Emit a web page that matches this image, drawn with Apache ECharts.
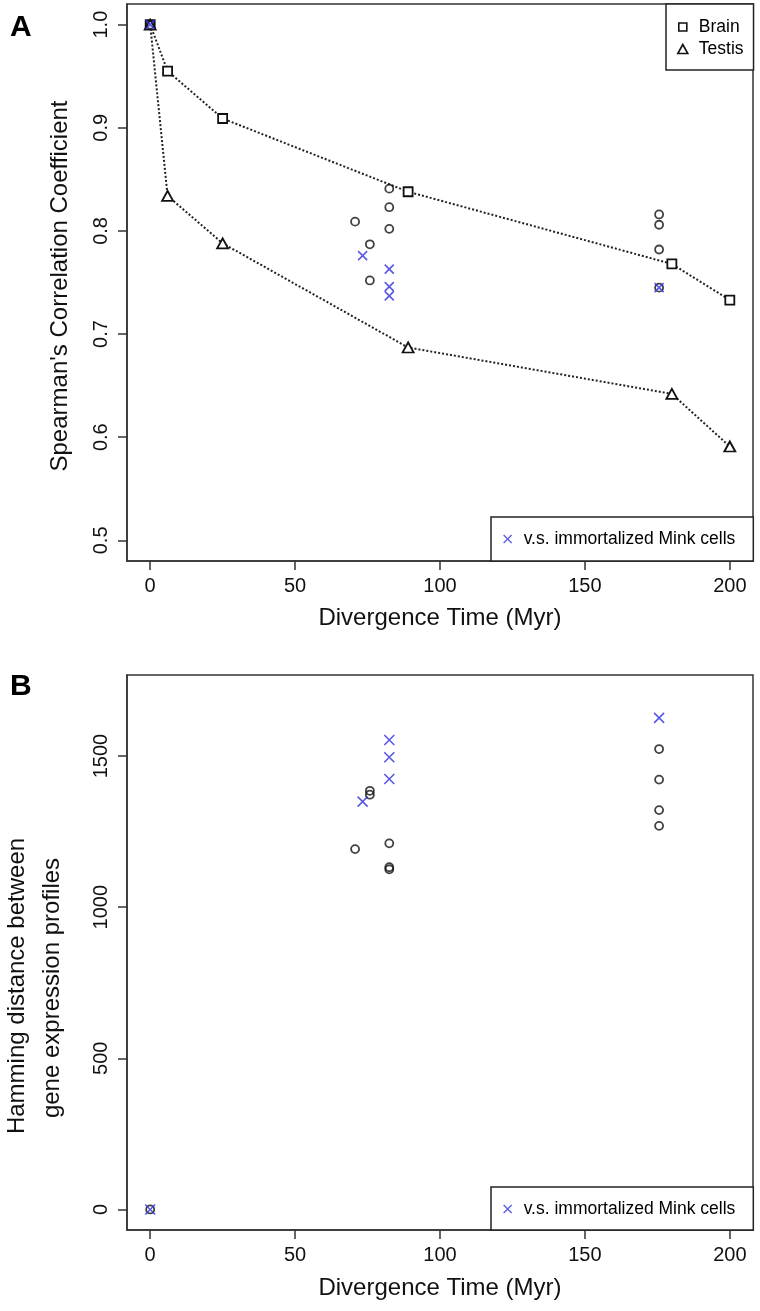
<!DOCTYPE html>
<html>
<head>
<meta charset="utf-8">
<script src="https://cdn.jsdelivr.net/npm/echarts@6/dist/echarts.min.js"></script>
<style>
html,body{margin:0;padding:0;background:#fff;}
#chart{width:760px;height:1311px;}
</style>
</head>
<body>
<div id="chart"></div>
<script>
// ---- data ----
const lineTime = [0, 6, 25, 89, 180, 200];
const brainCorr = [1.0, 0.955, 0.909, 0.838, 0.768, 0.733];
const testisCorr = [1.0, 0.834, 0.788, 0.687, 0.642, 0.591];

const pairTime = [0, 70.7, 75.8, 75.8, 82.5, 82.5, 82.5, 175.6, 175.6, 175.6, 175.6];
const pairCorr = [1.0, 0.809, 0.787, 0.752, 0.841, 0.823, 0.802, 0.816, 0.806, 0.782, 0.745];
const pairHamming = [0, 1192, 1385, 1372, 1211, 1132, 1125, 1523, 1422, 1321, 1269];

const minkTime = [0, 73.3, 82.5, 82.5, 82.5, 175.6];
const minkCorr = [1.0, 0.776, 0.763, 0.746, 0.737, 0.745];
const minkHamming = [0, 1349, 1553, 1496, 1424, 1626];

const xTicks = [0, 50, 100, 150, 200];
const yTicksA = [0.5, 0.6, 0.7, 0.8, 0.9, 1.0];
const yTicksB = [0, 500, 1000, 1500];

const seriesNames = ['Brain', 'Testis', 'v.s. immortalized Mink cells'];

// ---- chart ----
const FONT = 'Liberation Sans, Arial, Helvetica, sans-serif';
const AXC = '#333';
const BLUE = '#2f2fe0';
const CROSS = 'path://M0,0L10,10M10,0L0,10';
const ICON_SQ = 'path://M0,0M22,10M7,1L15,1L15,9L7,9Z';
const ICON_TRI = 'path://M0,0M22,10M11,0.5L16,9.5L6,9.5Z';
const ICON_X = 'path://M0,0M22,10M7,1L15,9M15,1L7,9';
const zip = (a, b) => a.map((v, i) => [v, b[i]]);

function xAxisCfg(gi) {
  return {
    type: 'value', gridIndex: gi, min: -8, max: 208,
    axisLine: {show: true, onZero: false, lineStyle: {color: AXC, width: 1.5}},
    axisTick: {show: true, length: 9, customValues: xTicks, lineStyle: {color: AXC, width: 1.5}},
    axisLabel: {customValues: xTicks, fontSize: 20, color: '#111', fontFamily: FONT, margin: 15},
    splitLine: {show: false}
  };
}
function yAxisCfg(gi, min, max, ticks, fmt) {
  return {
    type: 'value', gridIndex: gi, min: min, max: max,
    axisLine: {show: true, onZero: false, lineStyle: {color: AXC, width: 1.5}},
    axisTick: {show: true, length: 9, customValues: ticks, lineStyle: {color: AXC, width: 1.5}},
    axisLabel: {customValues: ticks, rotate: 90, fontSize: 20, color: '#111', fontFamily: FONT, margin: 16, formatter: fmt},
    splitLine: {show: false}
  };
}
function legendCfg(names, icons, left, top, padding) {
  return {
    show: true, orient: 'vertical', left: left, top: top, padding: padding,
    data: names.map((n, i) => ({name: n, icon: icons[i]})),
    itemWidth: 22, itemHeight: 10, itemGap: 4, selectedMode: false,
    borderColor: '#222', borderWidth: 1.5, backgroundColor: '#fff', borderRadius: 0,
    textStyle: {fontSize: 17.5, lineHeight: 18, color: '#000', fontFamily: FONT}
  };
}

const chart = echarts.init(document.getElementById('chart'), null, {renderer: 'canvas'});
const option = {
  animation: false,
  backgroundColor: '#fff',
  grid: [
    {left: 127, top: 4, width: 626, height: 557, show: true, borderColor: AXC, borderWidth: 1.5, backgroundColor: 'transparent'},
    {left: 127, top: 675, width: 626, height: 555, show: true, borderColor: AXC, borderWidth: 1.5, backgroundColor: 'transparent'}
  ],
  xAxis: [xAxisCfg(0), xAxisCfg(1)],
  yAxis: [
    yAxisCfg(0, 0.48, 1.02, yTicksA, v => v.toFixed(1)),
    yAxisCfg(1, -68, 1768, yTicksB, v => String(v))
  ],
  legend: [
    Object.assign(legendCfg([seriesNames[0], seriesNames[1]], [ICON_SQ, ICON_TRI], 666, 4, [14, 10, 12, 5]),
      {itemStyle: {color: '#fff', borderColor: '#111', borderWidth: 1.6}}),
    Object.assign(legendCfg([seriesNames[2]], [ICON_X], 491, 517, [13, 18, 13, 5]),
      {itemStyle: {color: 'rgba(0,0,0,0)', borderColor: BLUE, borderWidth: 1.3}}),
    Object.assign(legendCfg([seriesNames[2]], [ICON_X], 491, 1187, [13, 18, 12, 5]),
      {itemStyle: {color: 'rgba(0,0,0,0)', borderColor: BLUE, borderWidth: 1.3}})
  ],
  graphic: [
    {type: 'text', x: 10, y: 28, style: {text: 'A', fontSize: 30, fontWeight: 'bold', fontFamily: FONT, fill: '#000', verticalAlign: 'middle'}},
    {type: 'text', x: 10, y: 687, style: {text: 'B', fontSize: 30, fontWeight: 'bold', fontFamily: FONT, fill: '#000', verticalAlign: 'middle'}},
    {type: 'text', x: 60, y: 286, rotation: Math.PI / 2, style: {text: "Spearman's Correlation Coefficient", fontSize: 24, fontFamily: FONT, fill: '#111', align: 'center', verticalAlign: 'middle'}},
    {type: 'text', x: 440, y: 618, style: {text: 'Divergence Time (Myr)', fontSize: 24, fontFamily: FONT, fill: '#111', align: 'center', verticalAlign: 'middle'}},
    {type: 'text', x: 17, y: 986, rotation: Math.PI / 2, style: {text: 'Hamming distance between', fontSize: 24, fontFamily: FONT, fill: '#111', align: 'center', verticalAlign: 'middle'}},
    {type: 'text', x: 52, y: 988, rotation: Math.PI / 2, style: {text: 'gene expression profiles', fontSize: 24, fontFamily: FONT, fill: '#111', align: 'center', verticalAlign: 'middle'}},
    {type: 'text', x: 440, y: 1288, style: {text: 'Divergence Time (Myr)', fontSize: 24, fontFamily: FONT, fill: '#111', align: 'center', verticalAlign: 'middle'}}
  ],
  series: [
    {
      name: seriesNames[0], type: 'line', xAxisIndex: 0, yAxisIndex: 0, z: 3,
      data: zip(lineTime, brainCorr),
      symbol: 'rect', symbolSize: 9, showSymbol: true,
      lineStyle: {color: '#222', width: 2, type: [2, 2]},
      itemStyle: {color: '#fff', borderColor: '#111', borderWidth: 1.8}
    },
    {
      name: seriesNames[1], type: 'line', xAxisIndex: 0, yAxisIndex: 0, z: 3,
      data: zip(lineTime, testisCorr),
      symbol: 'triangle', symbolSize: [11, 10], showSymbol: true,
      lineStyle: {color: '#222', width: 2, type: [2, 2]},
      itemStyle: {color: '#fff', borderColor: '#111', borderWidth: 1.8}
    },
    {
      name: 'species pairs A', type: 'scatter', xAxisIndex: 0, yAxisIndex: 0, z: 4,
      data: zip(pairTime, pairCorr),
      symbol: 'circle', symbolSize: 8,
      itemStyle: {color: 'rgba(0,0,0,0)', borderColor: '#111', borderWidth: 1.8}
    },
    {
      name: seriesNames[2], type: 'scatter', xAxisIndex: 0, yAxisIndex: 0, z: 5,
      data: zip(minkTime, minkCorr),
      symbol: CROSS, symbolSize: 9,
      itemStyle: {color: 'rgba(0,0,0,0)', borderColor: BLUE, borderWidth: 1.6}
    },
    {
      name: 'species pairs B', type: 'scatter', xAxisIndex: 1, yAxisIndex: 1, z: 4,
      data: zip(pairTime, pairHamming),
      symbol: 'circle', symbolSize: 8,
      itemStyle: {color: 'rgba(0,0,0,0)', borderColor: '#111', borderWidth: 1.8}
    },
    {
      name: seriesNames[2], type: 'scatter', xAxisIndex: 1, yAxisIndex: 1, z: 5,
      data: zip(minkTime, minkHamming),
      symbol: CROSS, symbolSize: 10,
      itemStyle: {color: 'rgba(0,0,0,0)', borderColor: BLUE, borderWidth: 1.6}
    }
  ]
};
chart.setOption(option);
</script>
</body>
</html>
